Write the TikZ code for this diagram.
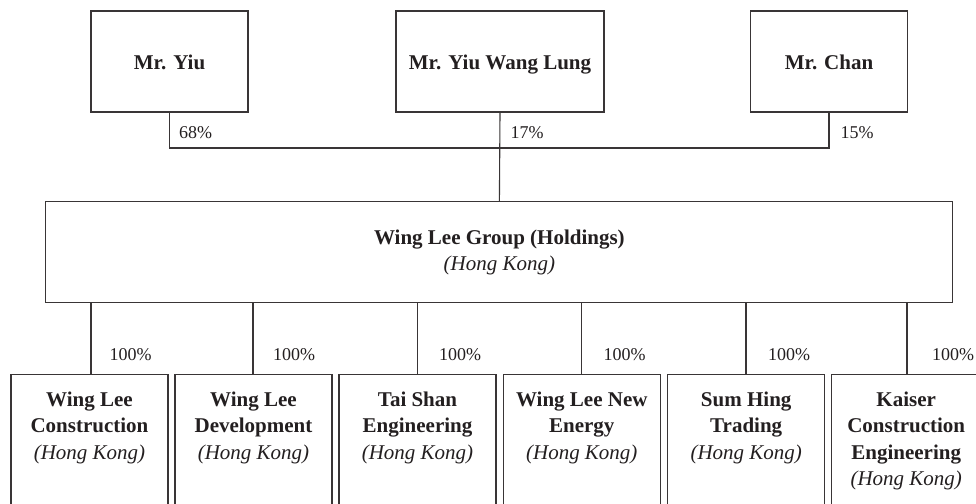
\documentclass[tikz,border=0pt]{standalone}
\usepackage{fontspec}
\setmainfont{Liberation Serif}
\definecolor{ink}{HTML}{231F20}
\begin{document}
\begin{tikzpicture}[x=1pt,y=1pt,
  line/.style={draw=ink!90, line width=1.1pt},
  topbox/.style={line, minimum height=101pt, inner sep=0pt, align=center,
    text=ink, font=\fontsize{21}{26.5}\selectfont\bfseries},
  personbox/.style={topbox, text height=18pt, text depth=1pt},
  holdbox/.style={topbox, minimum width=907pt},
  childbox/.style={line, minimum width=157pt, minimum height=150pt, anchor=north, inner sep=0pt},
  childtext/.style={anchor=north, align=center, inner sep=0pt, text=ink,
    font=\fontsize{21}{26.5}\selectfont\bfseries},
  pct/.style={anchor=base west, inner sep=0pt, text=ink, font=\fontsize{18}{22}\selectfont}
]
\useasboundingbox (0,0) rectangle (976,-503);
\clip (0,0) rectangle (976,-503);

% shareholders
\node[personbox, minimum width=157pt] (yiu) at (169.5,-61.5) {Mr. Yiu};
\node[personbox, minimum width=208pt] (wang) at (500,-61.5) {Mr. Yiu Wang Lung};
\node[personbox, minimum width=157pt] (chan) at (829,-61.5) {Mr. Chan};

% holding
\node[holdbox] (hold) at (499.4,-252.2) {Wing Lee Group (Holdings)\\\textmd{\textit{(Hong Kong)}}};

% top connectors
\coordinate (jn) at (169.5,-148);
\draw[line] (yiu.south) -- (jn) -| (chan.south);
\draw[line] (wang.south) -- (hold.north);

\node[pct] (p1) at (179,-138.3) {68\%};
\node[pct] (p2) at (510.5,-138.3) {17\%};
\node[pct] (p3) at (840.5,-138.3) {15\%};

% subsidiaries
\node[childbox] (c1) at (89.5,-374) {};
\node[childbox] (c2) at (253.5,-374) {};
\node[childbox] (c3) at (417.5,-374) {};
\node[childbox] (c4) at (581.8,-374) {};
\node[childbox] (c5) at (746.2,-374) {};
\node[childbox] (c6) at (910.2,-374) {};

\node[childtext] (t1) at ([yshift=-13.5pt]c1.north) {\strut Wing Lee\\Construction\\\textmd{\textit{(Hong Kong)}}};
\node[childtext] (t2) at ([yshift=-13.5pt]c2.north) {\strut Wing Lee\\Development\\\textmd{\textit{(Hong Kong)}}};
\node[childtext] (t3) at ([yshift=-13.5pt]c3.north) {\strut Tai Shan\\Engineering\\\textmd{\textit{(Hong Kong)}}};
\node[childtext] (t4) at ([yshift=-13.5pt]c4.north) {\strut Wing Lee New\\Energy\\\textmd{\textit{(Hong Kong)}}};
\node[childtext] (t5) at ([yshift=-13.5pt]c5.north) {\strut Sum Hing\\Trading\\\textmd{\textit{(Hong Kong)}}};
\node[childtext] (t6) at ([xshift=-4pt,yshift=-13.5pt]c6.north) {\strut Kaiser\\Construction\\Engineering\\\textmd{\textit{(Hong Kong)}}};

% lower connectors
\coordinate (l1) at (91,0);
\coordinate (l2) at (253,0);
\coordinate (l3) at (417.7,0);
\coordinate (l4) at (581.7,0);
\coordinate (l5) at (746,0);
\coordinate (l6) at (907,0);
\foreach \i in {1,...,6}{
  \draw[line] (hold.south -| l\i) -- (c\i.north -| l\i);
}

\node[pct] (q1) at (109.5,-360) {100\%};
\node[pct] (q2) at (272.8,-360) {100\%};
\node[pct] (q3) at (438.8,-360) {100\%};
\node[pct] (q4) at (603.5,-360) {100\%};
\node[pct] (q5) at (767.8,-360) {100\%};
\node[pct] (q6) at (931.8,-360) {100\%};
\end{tikzpicture}
\end{document}
